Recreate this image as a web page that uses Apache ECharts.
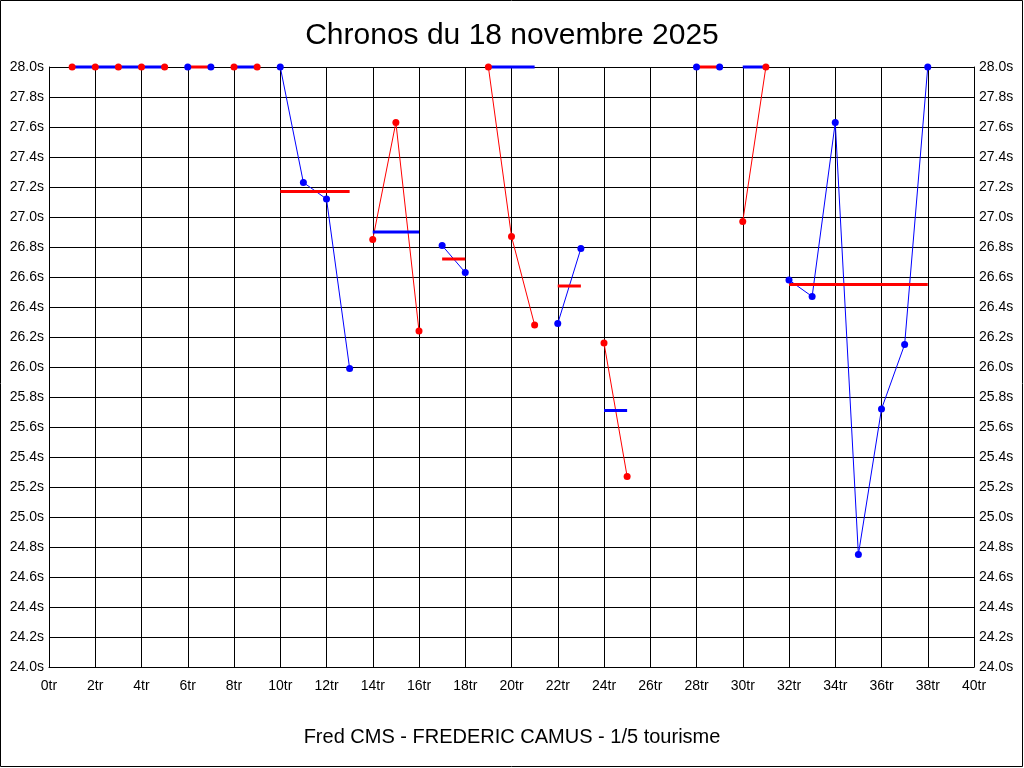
<!DOCTYPE html>
<html>
<head>
<meta charset="utf-8">
<script src="https://cdn.jsdelivr.net/npm/echarts@6/dist/echarts.min.js"></script>
<style>
html,body{margin:0;padding:0;background:#fff;}
#chart{width:1024px;height:768px;}
</style>
</head>
<body>
<div id="chart"></div>
<script>
// Data
const titleText = 'Chronos du 18 novembre 2025';
const footerText = 'Fred CMS - FREDERIC CAMUS - 1/5 tourisme';

// laps of each stint (x values, in "tr")
const stintLaps = [
  [1, 2, 3, 4, 5],
  [6, 7],
  [8, 9],
  [10, 11, 12, 13],
  [14, 15, 16],
  [17, 18],
  [19, 20, 21],
  [22, 23],
  [24, 25],
  [28, 29],
  [30, 31],
  [32, 33, 34, 35, 36, 37, 38]
];
// lap times (s) of each stint
const stintTimes = [
  [28.0, 28.0, 28.0, 28.0, 28.0],
  [28.0, 28.0],
  [28.0, 28.0],
  [28.0, 27.23, 27.12, 25.99],
  [26.85, 27.63, 26.24],
  [26.81, 26.63],
  [28.0, 26.87, 26.28],
  [26.29, 26.79],
  [26.16, 25.27],
  [28.0, 28.0],
  [26.97, 28.0],
  [26.58, 26.47, 27.63, 24.75, 25.72, 26.15, 28.0]
];
// average line of each stint (s)
const stintAverages = [28.0, 28.0, 28.0, 27.17, 26.90, 26.72, 28.0, 26.54, 25.71, 28.0, 28.0, 26.55];

// axis settings
const xMin = 0, xMax = 40, xStep = 2;
const yMin = 24.0, yMax = 28.0, yStep = 0.2;

const RED = '#ff0000', BLUE = '#0000ff';
const FONT = 'Liberation Sans, Arial, sans-serif';

const series = [];
stintLaps.forEach((laps, i) => {
  const col = i % 2 === 0 ? RED : BLUE;
  const avgCol = i % 2 === 0 ? BLUE : RED;
  const pts = laps.map((l, k) => [l, stintTimes[i][k]]);
  series.push({
    type: 'line', data: pts, showSymbol: false, symbol: 'none',
    lineStyle: { color: col, width: 1, opacity: 1 }, z: 2, clip: false, animation: false, silent: true
  });
  series.push({
    type: 'line', data: [[laps[0], stintAverages[i]], [laps[laps.length - 1], stintAverages[i]]],
    symbol: 'none', lineStyle: { color: avgCol, width: 3, opacity: 1 }, z: 3, clip: false, animation: false, silent: true
  });
  series.push({
    type: 'scatter', data: pts, symbol: 'circle', symbolSize: 7,
    itemStyle: { color: col, opacity: 1 }, z: 4, clip: false, animation: false, silent: true
  });
});

const chart = echarts.init(document.getElementById('chart'), null, { renderer: 'canvas' });
const yLabel = { color: '#000', fontSize: 14, fontFamily: FONT, margin: 5, formatter: v => v.toFixed(1) + 's' };
chart.setOption({
  backgroundColor: '#fff',
  animation: false,
  title: [
    { text: titleText, left: 'center', top: 21, padding: 0,
      textStyle: { fontSize: 30, fontWeight: 'normal', color: '#000', fontFamily: FONT } },
    { text: footerText, left: 'center', top: 727, padding: 0,
      textStyle: { fontSize: 20, fontWeight: 'normal', color: '#000', fontFamily: FONT } }
  ],
  graphic: [{
    type: 'rect', shape: { x: 0.5, y: 0.5, width: 1022, height: 766 },
    style: { fill: 'none', stroke: '#000', lineWidth: 1 }, silent: true, z: 100
  }],
  grid: { left: 49, right: 50, top: 67, bottom: 101, containLabel: false },
  xAxis: {
    type: 'value', min: xMin, max: xMax, interval: xStep,
    axisLine: { show: true, lineStyle: { color: '#000', width: 1 } },
    axisTick: { show: false },
    splitLine: { show: true, lineStyle: { color: '#000', width: 1 } },
    axisLabel: { color: '#000', fontSize: 14, fontFamily: FONT, margin: 12, formatter: v => v + 'tr' }
  },
  yAxis: [
    {
      type: 'value', min: yMin, max: yMax, interval: yStep, position: 'left',
      axisLine: { show: true, lineStyle: { color: '#000', width: 1 } },
      axisTick: { show: false },
      splitLine: { show: true, lineStyle: { color: '#000', width: 1 } },
      axisLabel: yLabel
    },
    {
      type: 'value', min: yMin, max: yMax, interval: yStep, position: 'right',
      axisLine: { show: true, lineStyle: { color: '#000', width: 1 } },
      axisTick: { show: false },
      splitLine: { show: false },
      axisLabel: yLabel
    }
  ],
  series: series
});
</script>
</body>
</html>
